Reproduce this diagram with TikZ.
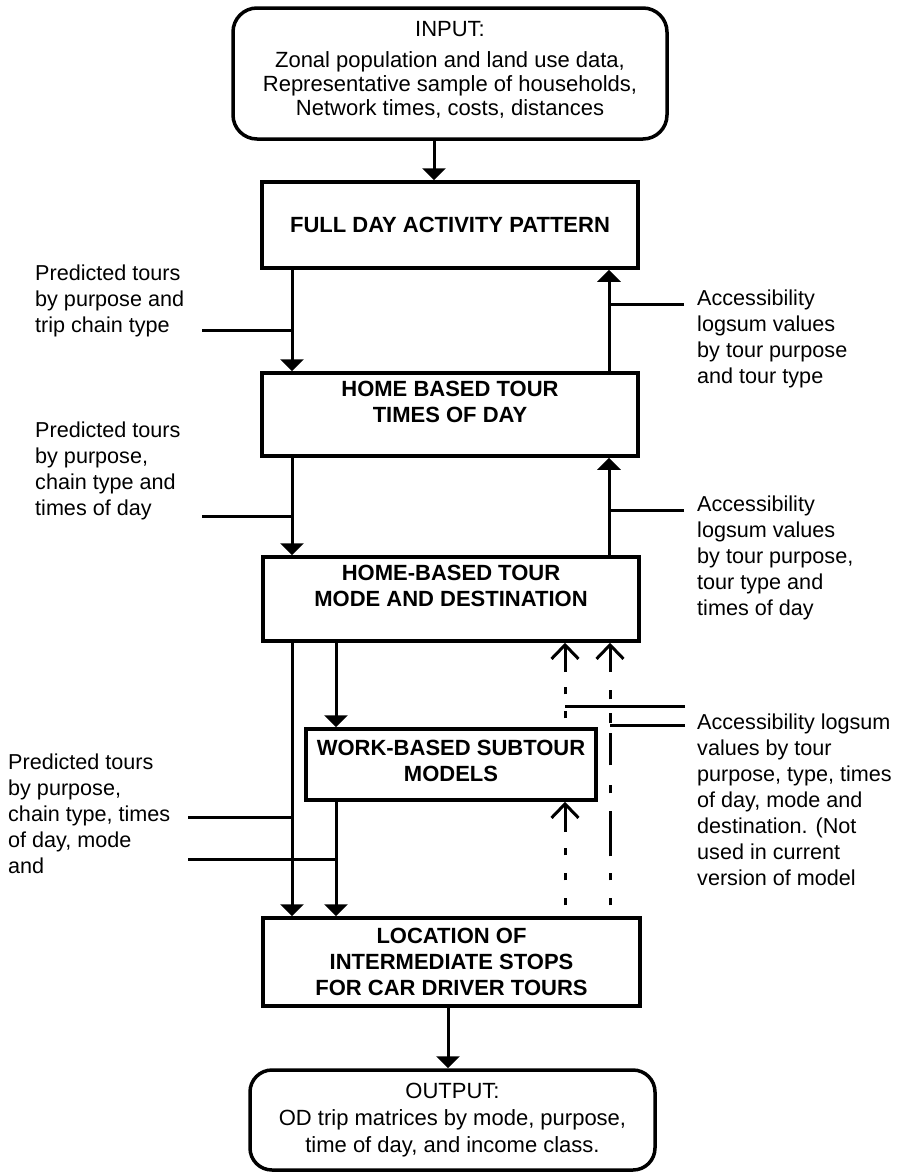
\documentclass[tikz,border=0pt]{standalone}
\usepackage{fontspec}
\setmainfont{Liberation Sans}
\usetikzlibrary{arrows.meta}
\begin{document}
\begin{tikzpicture}[x=1pt,y=-1pt,
  box/.style={draw, line width=3.5pt, inner sep=0pt, align=center, font=\bfseries\fontsize{22}{26}\selectfont},
  rbox/.style={draw, line width=3.5pt, inner sep=0pt, rounded corners=24pt, align=center, font=\fontsize{22}{24}\selectfont},
  lbl/.style={anchor=west, inner sep=0pt, align=left, font=\fontsize{21.6}{26}\selectfont},
  conn/.style={line width=3pt},
  arr/.style={conn, -{Triangle[width=23pt,length=12pt]}},
  barb/.style={conn, -{Straight Barb[width=27pt,length=14pt]}},
]
\useasboundingbox (0,0) rectangle (901,1173);

% boxes
\node[rbox, minimum width=434pt, minimum height=131pt] (input) at (450,73.5)
  {INPUT:\\[7pt]Zonal population and land use data,\\Representative sample of households,\\Network times, costs, distances\\[-13pt]\mbox{}};
\node[box, minimum width=376pt, minimum height=86pt] (full) at (450,225) {FULL DAY ACTIVITY PATTERN};
\node[box, minimum width=376pt, minimum height=83pt] (times) at (450,414.5) {HOME BASED TOUR\\TIMES OF DAY\\\mbox{}};
\node[box, minimum width=376pt, minimum height=84pt] (mode) at (451,599) {HOME-BASED TOUR\\MODE AND DESTINATION\\\mbox{}};
\node[box, minimum width=290pt, minimum height=71pt] (work) at (451,764.5) {WORK-BASED SUBTOUR\\MODELS\\[-18pt]\mbox{}};
\node[box, minimum width=377pt, minimum height=88pt] (loc) at (451.5,962) {LOCATION OF\\INTERMEDIATE STOPS\\FOR CAR DRIVER TOURS};
\node[rbox, rounded corners=22pt, minimum width=405pt, minimum height=100pt, font=\fontsize{22}{27}\selectfont] (output) at (452.5,1120)
  {OUTPUT:\\OD trip matrices by mode, purpose,\\time of day, and income class.};

% side labels
\node[lbl] (l1) at (35,300.5) {Predicted tours\\by purpose and\\trip chain type};
\node[lbl] (l2) at (35,471) {Predicted tours\\by purpose,\\chain type and\\times of day};
\node[lbl] (l3) at (8,814) {Predicted tours\\by purpose,\\chain type, times\\of day, mode\\and};
\node[lbl] (r1) at (697,338.5) {Accessibility\\logsum values\\by tour purpose\\and tour type};
\node[lbl] (r2) at (697,558) {Accessibility\\logsum values\\by tour purpose,\\tour type and\\times of day};
\node[lbl] (r3) at (697,800) {Accessibility logsum\\values by tour\\purpose, type, times\\of day, mode and\\destination. (Not\\used in current\\version of model};

% column positions
\coordinate (xA) at (434,0);
\coordinate (xL) at (292,0);
\coordinate (xR) at (609,0);
\coordinate (xM) at (336,0);
\coordinate (xD1) at (565,0);
\coordinate (xD2) at (610,0);
\coordinate (xO) at (448,0);

% feed line ends
\coordinate (f1) at (202,330);
\coordinate (f2) at (202,516);
\coordinate (f3) at (188,817);
\coordinate (f4) at (188,859);
\coordinate (g1) at (684,304);
\coordinate (g2) at (684,510);
\coordinate (g3) at (685,706);
\coordinate (g4) at (685,725);

% main flow
\draw[arr] (xA |- input.south) -- (xA |- full.north);
\draw[arr] (xL |- full.south) -- (xL |- times.north);
\draw[arr] (xR |- times.north) -- (xR |- full.south);
\draw[arr] (xL |- times.south) -- (xL |- mode.north);
\draw[arr] (xR |- mode.north) -- (xR |- times.south);
\draw[arr] (xL |- mode.south) -- (xL |- loc.north);
\draw[arr] (xM |- mode.south) -- (xM |- work.north);
\draw[arr] (xM |- work.south) -- (xM |- loc.north);
\draw[arr] (xO |- loc.south) -- (xO |- output.north);

% feeds
\draw[conn] (f1) -- (f1 -| xL);
\draw[conn] (f2) -- (f2 -| xL);
\draw[conn] (f3) -- (f3 -| xL);
\draw[conn] (f4) -- (f4 -| xM);
\draw[conn] (g1) -- (g1 -| xR);
\draw[conn] (g2) -- (g2 -| xR);
\draw[conn] (g3) -- (g3 -| xD1);
\draw[conn] (g4) -- (g4 -| xD2);

% dashed feedback arrows
\coordinate (wm) at (565,672);
\coordinate (lw) at (565,832);
\coordinate (lm) at (610,672);
\draw[conn, dash pattern=on 0pt off 9pt on 7pt off 17pt on 7pt off 17pt on 7pt off 17pt] (xD1 |- work.north) -- (wm);
\draw[barb] (wm) -- (xD1 |- mode.south);
\draw[conn, dash pattern=on 0pt off 11pt on 7pt off 18pt on 7pt off 18pt on 7pt off 18pt] (xD1 |- loc.north) -- (lw);
\draw[barb] (lw) -- (xD1 |- work.south);
\draw[conn, dash pattern=on 0pt off 11pt on 7pt off 18pt on 7pt off 17pt on 45pt off 18pt on 8pt off 20pt on 32pt off 10pt on 10pt off 14pt on 9pt off 18pt on 0pt off 40pt] (xD2 |- loc.north) -- (lm);
\draw[barb] (lm) -- (xD2 |- mode.south);
\end{tikzpicture}
\end{document}
